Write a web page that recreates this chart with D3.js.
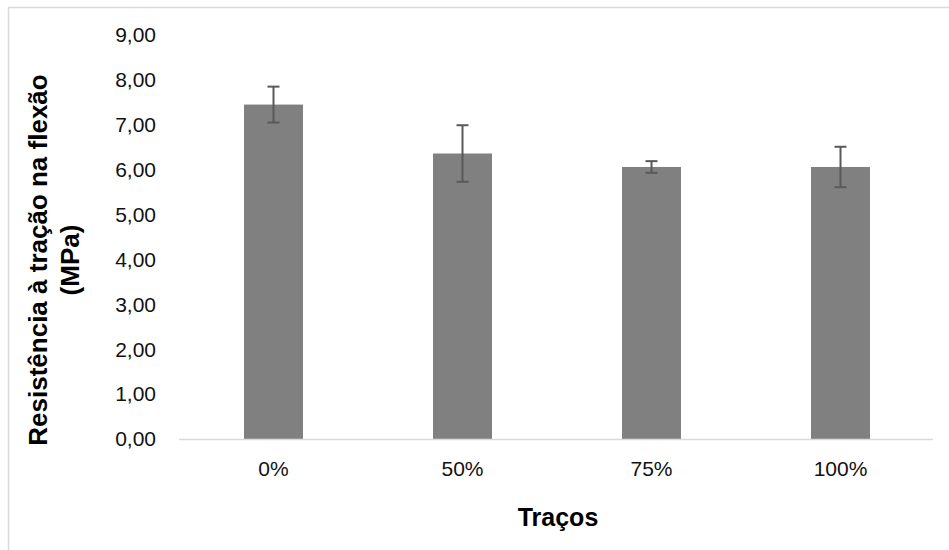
<!DOCTYPE html>
<html>
<head>
<meta charset="utf-8">
<script src="https://cdn.jsdelivr.net/npm/d3@7"></script>
<style>
    body { margin: 0; background: #fff; }
    svg { display: block; font-family: "Liberation Sans", Arial, sans-serif; }
</style>
</head>
<body>
<svg id="chart" width="949" height="550"></svg>
<script>
// data
let categories = ["0%", "50%", "75%", "100%"];
let values = [7.45, 6.36, 6.06, 6.06];
let errors = [0.40, 0.63, 0.13, 0.45];
let yTicks = [0, 1, 2, 3, 4, 5, 6, 7, 8, 9];

let svg = d3.select("#chart");

// chart frame (runs off the right and bottom of the picture)
svg.append("rect")
    .attr("x", 8.5)
    .attr("y", 7.5)
    .attr("width", 960)
    .attr("height", 560)
    .attr("fill", "none")
    .attr("stroke", "#d9d9d9")
    .attr("stroke-width", 1.5);

let x = d3.scaleBand()
    .domain(categories)
    .range([179, 935])
    .paddingInner(0.688)
    .paddingOuter(0.344);

let y = d3.scaleLinear()
    .domain([0, 9])
    .range([439, 35]);

// y tick labels
let fmt = d => d3.format(".2f")(d).replace(".", ",");
svg.append("g")
    .selectAll("text")
    .data(yTicks)
    .enter()
    .append("text")
    .attr("x", 156)
    .attr("y", d => y(d))
    .attr("dy", "0.35em")
    .attr("text-anchor", "end")
    .attr("font-size", 21)
    .attr("fill", "#111")
    .text(fmt);

// bars
svg.append("g")
    .selectAll("rect")
    .data(values)
    .enter()
    .append("rect")
    .attr("x", (d, i) => x(categories[i]))
    .attr("y", d => y(d))
    .attr("width", x.bandwidth())
    .attr("height", d => y(0) - y(d))
    .attr("fill", "#808080");

// error bars
let err = svg.append("g")
    .attr("stroke", "#595959")
    .attr("stroke-width", 2)
    .selectAll("g")
    .data(values)
    .enter()
    .append("g");

let cx = (i) => x(categories[i]) + x.bandwidth() / 2;

err.append("line")
    .attr("x1", (d, i) => cx(i))
    .attr("x2", (d, i) => cx(i))
    .attr("y1", (d, i) => y(d + errors[i]))
    .attr("y2", (d, i) => y(d - errors[i]));

err.append("line")
    .attr("x1", (d, i) => cx(i) - 6)
    .attr("x2", (d, i) => cx(i) + 6)
    .attr("y1", (d, i) => y(d + errors[i]))
    .attr("y2", (d, i) => y(d + errors[i]));

err.append("line")
    .attr("x1", (d, i) => cx(i) - 6)
    .attr("x2", (d, i) => cx(i) + 6)
    .attr("y1", (d, i) => y(d - errors[i]))
    .attr("y2", (d, i) => y(d - errors[i]));

// x axis line
svg.append("line")
    .attr("x1", 179)
    .attr("x2", 933)
    .attr("y1", y(0) + 0.5)
    .attr("y2", y(0) + 0.5)
    .attr("stroke", "#d9d9d9")
    .attr("stroke-width", 1.5);

// category labels
svg.append("g")
    .selectAll("text")
    .data(categories)
    .enter()
    .append("text")
    .attr("x", d => x(d) + x.bandwidth() / 2)
    .attr("y", 476)
    .attr("text-anchor", "middle")
    .attr("font-size", 21)
    .attr("fill", "#111")
    .text(d => d);

// axis titles
svg.append("text")
    .attr("x", 558)
    .attr("y", 526)
    .attr("text-anchor", "middle")
    .attr("font-size", 25)
    .attr("font-weight", "bold")
    .attr("fill", "#000")
    .text("Traços");

let ytitle = svg.append("text")
    .attr("transform", "translate(0,260) rotate(-90)")
    .attr("text-anchor", "middle")
    .attr("font-size", 26)
    .attr("font-weight", "bold")
    .attr("fill", "#000");

ytitle.append("tspan")
    .attr("x", 0)
    .attr("y", 47)
    .text("Resistência à tração na flexão");

ytitle.append("tspan")
    .attr("x", 0)
    .attr("y", 79)
    .text("(MPa)");
</script>
</body>
</html>
